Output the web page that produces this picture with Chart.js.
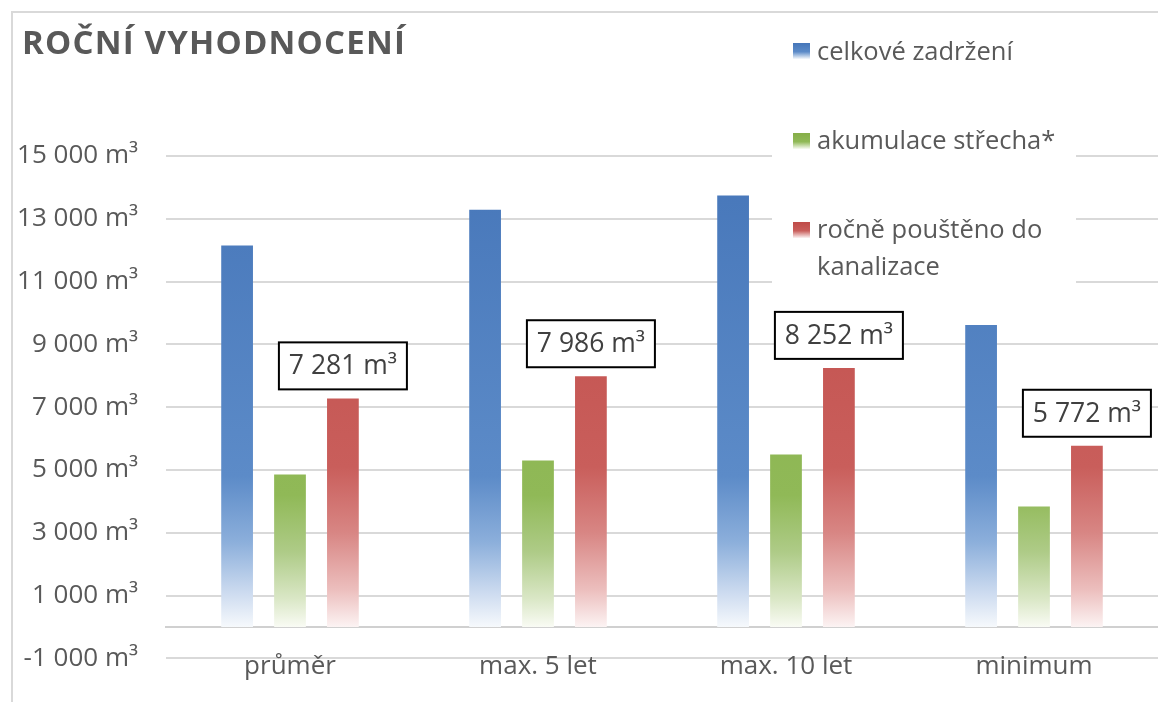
<!DOCTYPE html>
<html>
<head>
<meta charset="utf-8">
<script src="https://cdn.jsdelivr.net/npm/chart.js@4/dist/chart.umd.min.js"></script>
<style>
    body { margin: 0; background: #fff; }
    #wrap { width: 1158px; height: 702px; position: relative; }
</style>
</head>
<body>
<div id="wrap"><canvas id="rocni-chart"></canvas></div>
<script>
    // data
    var kategorie = ['průměr', 'max. 5 let', 'max. 10 let', 'minimum'];
    var celkoveZadrzeni = [12150, 13290, 13740, 9615];
    var akumulaceStrecha = [4860, 5300, 5490, 3840];
    var poustenoKanalizace = [7281, 7986, 8252, 5772];
    var nazvySerii = ['celkové zadržení', 'akumulace střecha*', ['ročně pouštěno do', 'kanalizace']];
    var osaY = { min: -1000, max: 15000, krok: 2000 };
    var titulek = 'ROČNÍ VYHODNOCENÍ';

    var grey = '#595959';
    var gridColor = '#d9d9d9';

    // gradient stops per series (top of plot -> zero line)
    var blueStops = [[0, '#4676b9'], [0.68, '#5c8bc8'], [0.82, '#8cafdb'], [0.93, '#cedcf0'], [1, '#f6f9fc']];
    var greenStops = [[0, '#86ae48'], [0.72, '#90b957'], [0.84, '#aecb87'], [0.94, '#dae7c6'], [1, '#f9fbf4']];
    var redStops = [[0, '#bf4b48'], [0.66, '#c95e5b'], [0.8, '#d88684'], [0.92, '#ecbebd'], [1, '#fcf3f3']];

    function formatCislo(v) {
        var s = String(Math.abs(v)).replace(/\B(?=(\d{3})+(?!\d))/g, ' ');
        return (v < 0 ? '-' : '') + s + ' m³';
    }

    function gradientFill(stops) {
        return function (context) {
            var chart = context.chart;
            if (!chart.chartArea) {
                return stops[0][1];
            }
            var y = chart.scales.y;
            var g = chart.ctx.createLinearGradient(0, y.getPixelForValue(osaY.max), 0, y.getPixelForValue(0));
            stops.forEach(function (s) { g.addColorStop(s[0], s[1]); });
            return g;
        };
    }

    var legendItems = [
        { text: [nazvySerii[0]], stops: blueStops, boxY: 43, baseY: [60] },
        { text: [nazvySerii[1]], stops: greenStops, boxY: 133, baseY: [149] },
        { text: nazvySerii[2], stops: redStops, boxY: 222, baseY: [238, 275] }
    ];

    var framePlugin = {
        id: 'frame',
        beforeDraw: function (chart) {
            var ctx = chart.ctx;
            ctx.save();
            ctx.fillStyle = '#fff';
            ctx.fillRect(0, 0, chart.width, chart.height);
            ctx.strokeStyle = gridColor;
            ctx.lineWidth = 2;
            ctx.beginPath();
            ctx.moveTo(12, chart.height);
            ctx.lineTo(12, 12);
            ctx.lineTo(chart.width, 12);
            ctx.stroke();

            ctx.fillStyle = grey;
            ctx.font = 'bold 33px "Open Sans"';
            ctx.letterSpacing = '1.2px';
            ctx.textBaseline = 'alphabetic';
            ctx.fillText(titulek, 22, 54);
            ctx.restore();
        }
    };

    var legendPlugin = {
        id: 'vlastniLegenda',
        afterDatasetsDraw: function (chart) {
            var ctx = chart.ctx;
            ctx.save();
            ctx.fillStyle = '#fff';
            ctx.fillRect(772, 20, 304, 272);
            legendItems.forEach(function (item) {
                var g = ctx.createLinearGradient(0, item.boxY, 0, item.boxY + 16);
                g.addColorStop(0, item.stops[0][1]);
                g.addColorStop(0.55, item.stops[1][1]);
                g.addColorStop(1, item.stops[4][1]);
                ctx.fillStyle = g;
                ctx.fillRect(793, item.boxY, 17, 16);
                ctx.fillStyle = grey;
                ctx.font = '25.5px "Open Sans"';
                ctx.textBaseline = 'alphabetic';
                item.text.forEach(function (line, i) {
                    ctx.fillText(line, 817, item.baseY[i]);
                });
            });
            ctx.restore();
        }
    };

    var labelPlugin = {
        id: 'popisky',
        afterDraw: function (chart) {
            var ctx = chart.ctx;
            var meta = chart.getDatasetMeta(2);
            ctx.save();
            ctx.font = '26.5px "Open Sans"';
            ctx.textAlign = 'center';
            ctx.textBaseline = 'middle';
            meta.data.forEach(function (bar, i) {
                var w = 128, h = 47;
                var x = bar.x - w / 2;
                var y = bar.y - 9 - h;
                ctx.fillStyle = '#fff';
                ctx.fillRect(x, y, w, h);
                ctx.strokeStyle = '#000';
                ctx.lineWidth = 2;
                ctx.strokeRect(x, y, w, h);
                ctx.fillStyle = '#404040';
                ctx.fillText(formatCislo(poustenoKanalizace[i]), bar.x, y + h / 2 + 1);
            });
            ctx.restore();
        }
    };

    var ctx = document.getElementById('rocni-chart').getContext('2d');
    var config = {
        type: 'bar',
        data: {
            labels: kategorie,
            datasets: [
                { label: nazvySerii[0], data: celkoveZadrzeni, backgroundColor: gradientFill(blueStops) },
                { label: nazvySerii[1], data: akumulaceStrecha, backgroundColor: gradientFill(greenStops) },
                { label: nazvySerii[2].join(' '), data: poustenoKanalizace, backgroundColor: gradientFill(redStops) }
            ]
        },
        options: {
            responsive: true,
            maintainAspectRatio: false,
            animation: false,
            devicePixelRatio: 1,
            categoryPercentage: 0.64,
            barPercentage: 0.6,
            layout: { padding: { left: 0, top: 156, right: 0, bottom: 43 } },
            plugins: {
                legend: { display: false },
                tooltip: { enabled: false }
            },
            scales: {
                x: {
                    position: { y: 0 },
                    grid: { display: false, drawTicks: false },
                    border: { display: true, color: '#d0d0d0', width: 2 },
                    ticks: {
                        color: grey,
                        font: { family: '"Open Sans"', size: 26 },
                        padding: 24,
                        maxRotation: 0
                    }
                },
                y: {
                    min: osaY.min,
                    max: osaY.max,
                    afterFit: function (scale) { scale.width = 166; },
                    grid: { color: gridColor, lineWidth: 2, drawTicks: false },
                    border: { display: false },
                    ticks: {
                        stepSize: osaY.krok,
                        color: grey,
                        padding: 28,
                        font: { family: '"Open Sans"', size: 26 },
                        callback: function (v) { return formatCislo(v); }
                    }
                }
            }
        },
        plugins: [framePlugin, legendPlugin, labelPlugin]
    };
    var RocniChart = new Chart(ctx, config);
</script>
</body>
</html>
